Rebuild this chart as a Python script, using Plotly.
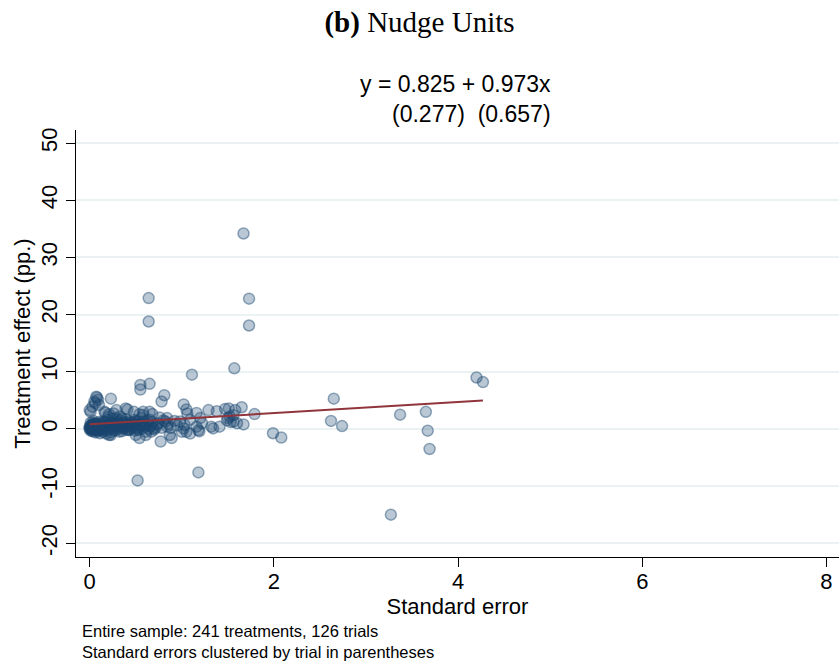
import plotly.graph_objects as go

# Standard errors of each treatment estimate (x) and the estimated effects in pp. (y)
# isolated estimates
se_isolated = [1.67, 0.64, 1.73, 0.64, 1.73, 1.57, 1.11, 4.20, 4.27, 0.65, 0.55, 0.55, 0.81, 0.78, 2.65,
               0.23, 3.37, 3.65, 3.67, 3.69, 2.62, 2.74, 1.99, 2.08, 3.27, 0.52, 1.18, 0.77, 1.79]
eff_isolated = [34.2, 22.9, 22.8, 18.8, 18.1, 10.6, 9.5, 9.0, 8.2, 7.9, 7.7, 6.9, 5.9, 4.8, 5.3,
                5.3, 2.5, 3.0, -0.3, -3.5, 1.4, 0.5, -0.75, -1.5, -15.0, -9.0, -7.6, -2.2, 2.6]

# estimates with standard errors around 1 to 1.8
se_mid = [0.98, 1.00, 1.02, 1.03, 1.02, 1.05, 1.06, 1.05, 1.09, 1.09, 1.16, 1.20, 1.16, 1.18, 1.22, 1.29, 1.38,
          1.32, 1.34, 1.41, 1.47, 1.50, 1.49, 1.52, 1.56, 1.60, 1.67, 1.51, 1.58, 1.65, 1.56, 1.53, 1.19]
eff_mid = [1.3, -0.5, 0.1, 0.7, 4.3, 3.4, 2.7, -0.5, -0.8, 1.6, 2.8, 1.9, 0.4, -0.2, 1.0, 3.3, 3.1,
           0.4, 0.1, 0.4, 3.5, 1.9, 1.5, 2.2, 1.3, 1.0, 0.8, 3.6, 3.3, 3.8, 2.4, 1.2, -0.4]

# estimates with standard errors around 0.6 to 0.95
se_near = [0.68, 0.76, 0.73, 0.82, 0.84, 0.87, 0.89, 0.65, 0.67, 0.69,
           0.84, 0.58, 0.72, 0.74, 0.78, 0.80, 0.85, 0.88, 0.92, 0.95]
eff_near = [2.6, 2.0, 0.8, 1.3, 0.4, -1.05, -1.6, 1.6, 0.7, 0.1,
            1.9, 2.45, 0.3, 1.0, 0.2, 1.5, 0.9, 0.2, 1.4, 0.6]

# precise estimates below zero
se_low = [0.54, 0.23, 0.11, 0.21, 0.32, 0.43, 0.50, 0.61, 0.67, 0.10, 0.01]
eff_low = [-1.6, -1.05, -0.75, -1.05, -0.47, -0.18, -1.05, -1.05, -0.47, -0.18, 0.12]

# precise estimates between 2.5 and 6
se_high = [0.07, 0.05, 0.09, 0.10, 0.03, 0.00, 0.01, 0.16, 0.21, 0.29,
           0.39, 0.48, 0.54, 0.58, 0.65, 0.41, 0.26, 0.17, 0.08, 0.06]
eff_high = [5.65, 4.8, 5.1, 4.2, 3.9, 3.3, 3.0, 3.0, 2.57, 3.3,
            3.6, 3.0, 2.57, 3.0, 3.0, 3.4, 2.7, 2.85, 5.5, 4.5]

# dense core of very precise estimates
se_core = [0.00, 0.00, 0.01, 0.01, 0.02, 0.02, 0.02, 0.03, 0.03, 0.03, 0.04, 0.04, 0.05, 0.05,
           0.05, 0.06, 0.06, 0.07, 0.07, 0.08, 0.08, 0.09, 0.09, 0.10, 0.10, 0.11, 0.11, 0.12,
           0.12, 0.13, 0.01, 0.04, 0.06, 0.02, 0.00, 0.03, 0.07, 0.09, 0.14, 0.15,
           0.16, 0.17, 0.18, 0.19, 0.20, 0.21, 0.22, 0.23, 0.24, 0.25, 0.26, 0.27, 0.28, 0.29,
           0.30, 0.31, 0.32, 0.33, 0.34, 0.35, 0.36, 0.37, 0.38, 0.39, 0.40, 0.41, 0.42, 0.43,
           0.44, 0.45, 0.20, 0.26, 0.33, 0.18,
           0.46, 0.47, 0.48, 0.49, 0.50, 0.51, 0.52, 0.53, 0.55, 0.56, 0.57, 0.58, 0.60, 0.61,
           0.62, 0.63, 0.64, 0.66, 0.68, 0.70,
           0.02, 0.04, 0.06, 0.08, 0.10, 0.12, 0.14, 0.16, 0.18, 0.20, 0.22, 0.24, 0.26, 0.28,
           0.30, 0.32, 0.34, 0.36, 0.38, 0.40, 0.42, 0.44, 0.46, 0.48, 0.50, 0.52, 0.54, 0.56,
           0.58, 0.60, 0.05, 0.15, 0.25, 0.35]
eff_core = [0.2, 0.0, 0.5, -0.3, 0.3, 0.8, -0.1, 0.1, 0.6, -0.4, 0.3, 0.9, 0.0, 0.5,
            -0.3, 0.2, 0.7, -0.1, 0.4, 1.0, 0.1, -0.4, 0.6, 0.2, 1.2, -0.2, 0.5, 0.9,
            0.0, 0.3, 1.1, 1.4, -0.6, 0.0, 0.4, 0.2, 0.8, 0.3, -0.5, 0.6,
            0.2, 1.1, -0.3, 0.7, 1.6, 0.0, 0.9, -0.6, 0.4, 1.3, 0.1, 0.8, -0.2, 1.9,
            0.5, 1.2, 0.0, 0.7, 1.5, -0.4, 0.3, 1.0, 0.6, 1.7, -0.1, 0.9, 0.4, 1.3,
            0.0, 0.7, 2.1, 1.8, 2.2, -0.8,
            1.1, 0.2, 1.6, -0.3, 0.8, 0.3, 1.3, -0.2, 0.6, 1.9, 0.1, 1.0, 0.4, -0.5,
            0.9, 1.5, 0.0, 0.5, 1.2, -0.1,
            0.6, 0.1, 0.4, -0.2, 0.7, 0.3, 1.0, -0.1, 0.5, 0.8, 0.2, 1.1, -0.3, 0.6,
            1.0, 0.3, 0.9, 0.1, 1.2, 0.5, -0.2, 1.0, 0.4, 0.8, 1.4, 0.0, 0.9, 0.5,
            1.3, 0.7, 1.0, 1.3, 0.5, 1.8]

std_errors = se_isolated + se_mid + se_near + se_low + se_high + se_core
effects = eff_isolated + eff_mid + eff_near + eff_low + eff_high + eff_core

# OLS fit of effect on standard error (clustered SEs in parentheses)
intercept, slope = 0.825, 0.973
intercept_se, slope_se = 0.277, 0.657

x_ticks = [0, 2, 4, 6, 8]
y_ticks = [-20, -10, 0, 10, 20, 30, 40, 50]
y_tick_labels = ["-20", "-10", "0", "10", "20", "30", "40", "50"]

footnotes = ["Entire sample: 241 treatments, 126 trials",
             "Standard errors clustered by trial in parentheses"]

SANS = "Liberation Sans, Arial, sans-serif"
NAVY = "26,71,111"
MAROON = "#90353b"

W, H = 839, 662
L, R, T, B = 76, 0, 130, 105
plot_w, plot_h = W - L - R, H - T - B


def px_to_paper_x(px):
    return (px - L) / plot_w


def px_to_paper_y(py):
    return (H - B - py) / plot_h


fig = go.Figure()

fig.add_trace(go.Scatter(
    x=std_errors, y=effects, mode="markers",
    marker=dict(size=11, color=f"rgba({NAVY},0.30)",
                line=dict(color=f"rgba({NAVY},0.45)", width=1.5)),
    hoverinfo="skip", showlegend=False,
))

x_fit = [min(std_errors), max(std_errors)]
y_fit = [intercept + slope * v for v in x_fit]
fig.add_trace(go.Scatter(
    x=x_fit, y=y_fit, mode="lines",
    line=dict(color=MAROON, width=2),
    hoverinfo="skip", showlegend=False,
))

# regression equation with clustered standard errors beneath
equation = (f"y = {intercept:.3f} + {slope:.3f}x<br>"
            f"({intercept_se:.3f})\u00a0\u00a0({slope_se:.3f})")

annotations = [
    dict(text=equation, x=px_to_paper_x(553), y=px_to_paper_y(99), align="right",
         xref="paper", yref="paper", xanchor="right", yanchor="middle", showarrow=False,
         font=dict(family=SANS, size=23, color="black")),
    dict(text="<br>".join(footnotes), x=px_to_paper_x(80), y=px_to_paper_y(641), align="left",
         xref="paper", yref="paper", xanchor="left", yanchor="middle", showarrow=False,
         font=dict(family=SANS, size=16.5, color="black")),
]

fig.update_layout(
    width=W, height=H,
    margin=dict(l=L, r=R, t=T, b=B, pad=0),
    paper_bgcolor="white", plot_bgcolor="white",
    title=dict(text="<b>(b)</b> Nudge Units", x=0.5, xref="container", xanchor="center",
               y=1 - 22 / H, yref="container", yanchor="middle",
               font=dict(family="Liberation Serif, Times New Roman, serif", size=29, color="black")),
    annotations=annotations,
    xaxis=dict(
        range=[-0.149, 8.136], tickvals=x_ticks, ticks="outside", ticklen=9, tickwidth=1,
        tickcolor="black", showline=True, linecolor="black", linewidth=1, mirror=False,
        showgrid=False, zeroline=False, ticklabelstandoff=-4,
        tickfont=dict(family=SANS, size=22, color="black"),
        title=dict(text="Standard error", font=dict(family=SANS, size=22, color="black"), standoff=0),
    ),
    yaxis=dict(
        range=[-22.4, 52.3], tickvals=y_ticks, ticktext=y_tick_labels, tickangle=-90,
        ticks="outside", ticklen=9, tickwidth=1, tickcolor="black",
        showline=True, linecolor="black", linewidth=1, mirror=False,
        showgrid=True, gridcolor="#eaf2f3", gridwidth=1.5, zeroline=False,
        tickfont=dict(family=SANS, size=22, color="black"),
        title=dict(text="Treatment effect (pp.)", font=dict(family=SANS, size=22, color="black"), standoff=0),
    ),
)

fig.write_html("out.html")
